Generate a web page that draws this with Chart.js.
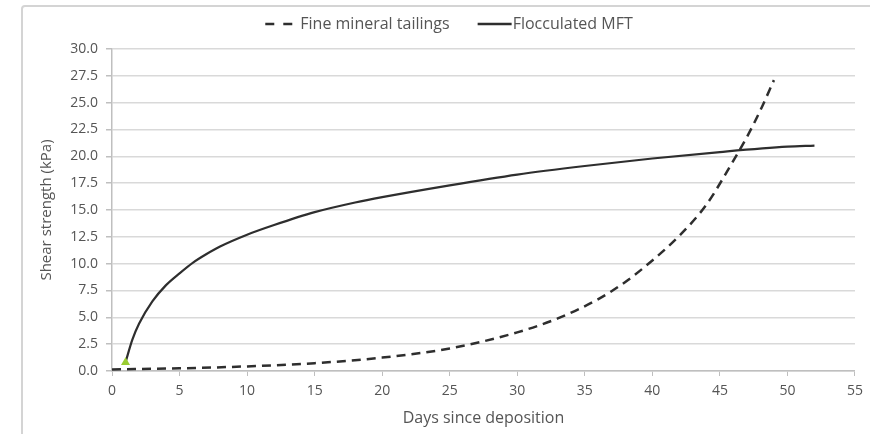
<!DOCTYPE html>
<html>
<head>
<meta charset="utf-8">
<script src="https://cdn.jsdelivr.net/npm/chart.js@4/dist/chart.umd.min.js"></script>
<style>
  html, body { margin: 0; padding: 0; background: #fff; }
  #wrap { position: relative; width: 870px; height: 434px; overflow: hidden; }
  #frame { position: absolute; left: 21px; top: 5px; width: 900px; height: 500px;
           border: 2px solid #d4d4d4; border-radius: 4px; }
  canvas { position: absolute; left: 0; top: 0; }
</style>
</head>
<body>
<div id="wrap">
  <div id="frame"></div>
  <canvas id="shearChart" width="870" height="434"></canvas>
</div>
<script>
// Fine mineral tailings (dashed)
const fineDays = [0, 5, 10, 15, 20, 25, 30, 33, 36, 38, 40, 42, 44, 46, 47, 48, 49];
const fineKPa  = [0.15, 0.25, 0.43, 0.73, 1.25, 2.1, 3.6, 4.9, 6.7, 8.3, 10.3, 12.6, 15.5, 19.6, 21.8, 24.3, 27.1];

// Flocculated MFT (solid)
const mftDays = [1, 1.5, 2, 3, 4, 5, 6, 7, 8, 10, 12, 15, 18, 20, 25, 30, 35, 40, 45, 50, 52];
const mftKPa  = [0.8, 2.9, 4.4, 6.5, 8.0, 9.1, 10.1, 10.9, 11.6, 12.7, 13.6, 14.8, 15.7, 16.2, 17.3, 18.3, 19.1, 19.8, 20.4, 20.9, 21.0];

const toXY = (xs, ys) => xs.map((x, i) => ({ x: x, y: ys[i] }));

const tickColor = '#555555';
const gridColor = '#d9d9d9';
const lineColor = '#2e2e2e';
const fineDash = [9, 6];
const fontFam = "'Open Sans', 'DejaVu Sans', sans-serif";

// legend drawn by hand so the dashed symbol looks like the original
const topLegend = {
    id: 'topLegend',
    afterDraw(chart) {
        const ctx = chart.ctx;
        const ds = chart.data.datasets;
        ctx.save();
        ctx.font = '16px ' + fontFam;
        ctx.fillStyle = tickColor;
        ctx.textBaseline = 'middle';
        const y = 24;
        const items = [
            { text: ds[0].label, sym: 27, gapBefore: 8, dash: [9, 9] },
            { text: ds[1].label, sym: 34, gapBefore: 1, dash: [] }
        ];
        const between = 28;
        let total = 0;
        items.forEach((it, i) => {
            it.w = ctx.measureText(it.text).width;
            total += it.sym + it.gapBefore + it.w + (i ? between : 0);
        });
        let x = 449 - total / 2;
        items.forEach((it, i) => {
            if (i) x += between;
            ctx.beginPath();
            ctx.setLineDash(it.dash);
            ctx.strokeStyle = lineColor;
            ctx.lineWidth = 2.5;
            ctx.moveTo(x, y);
            ctx.lineTo(x + it.sym, y);
            ctx.stroke();
            x += it.sym + it.gapBefore;
            ctx.fillText(it.text, x, y);
            x += it.w;
        });
        ctx.restore();
    }
};

new Chart(document.getElementById('shearChart'), {
    type: 'line',
    data: {
        datasets: [
            {
                label: 'Fine mineral tailings',
                data: toXY(fineDays, fineKPa),
                borderColor: lineColor,
                borderWidth: 2.5,
                borderDash: fineDash,
                pointRadius: 0,
                cubicInterpolationMode: 'monotone',
                fill: false
            },
            {
                label: 'Flocculated MFT',
                data: toXY(mftDays, mftKPa),
                borderColor: lineColor,
                borderWidth: 2.2,
                pointRadius: mftDays.map((d, i) => i === 0 ? 3 : 0),
                pointStyle: 'triangle',
                pointBackgroundColor: '#9acd32',
                pointBorderColor: '#9acd32',
                cubicInterpolationMode: 'monotone',
                fill: false
            }
        ]
    },
    options: {
        responsive: false,
        animation: false,
        layout: { padding: { left: 24, right: 15, top: 49, bottom: 4 } },
        plugins: {
            tooltip: { enabled: false },
            legend: { display: false }
        },
        scales: {
            x: {
                type: 'linear',
                min: 0,
                max: 55,
                ticks: {
                    stepSize: 5,
                    color: tickColor,
                    padding: 7,
                    font: { family: fontFam, size: 14 }
                },
                grid: {
                    drawOnChartArea: false,
                    drawTicks: true,
                    tickLength: 5,
                    color: '#bfbfbf'
                },
                border: { color: '#bfbfbf', width: 1.5 },
                title: {
                    display: true,
                    text: 'Days since deposition',
                    color: tickColor,
                    padding: { top: 4, bottom: 2 },
                    font: { family: fontFam, size: 16 }
                },
                afterFit: s => { s.height = 434 - 371 - 4; }
            },
            y: {
                min: 0,
                max: 30,
                ticks: {
                    stepSize: 2.5,
                    color: tickColor,
                    padding: 8,
                    font: { family: fontFam, size: 14 },
                    callback: v => Number(v).toFixed(1)
                },
                grid: {
                    color: gridColor,
                    lineWidth: 1.5,
                    tickColor: '#bfbfbf',
                    tickLength: 6
                },
                border: { color: '#bfbfbf', width: 1.5 },
                title: {
                    display: true,
                    text: 'Shear strength (kPa)',
                    color: tickColor,
                    padding: 14,
                    font: { family: fontFam, size: 15 }
                },
                afterFit: s => { s.width = 112 - 24; }
            }
        }
    },
    plugins: [topLegend]
});
</script>
</body>
</html>
